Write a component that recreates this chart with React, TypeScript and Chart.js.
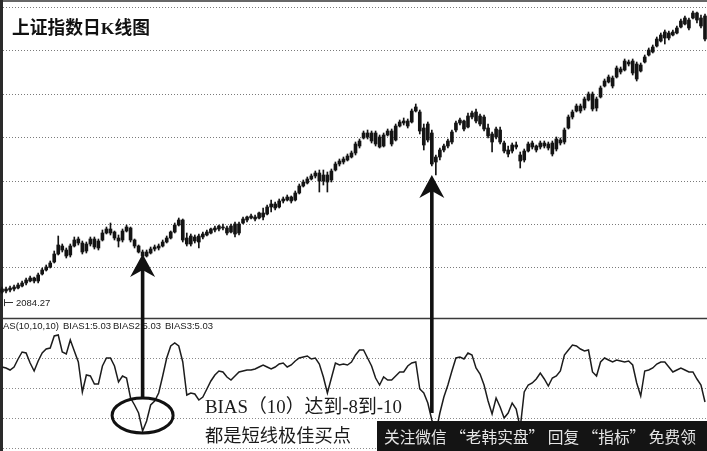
import React, { useEffect, useRef } from 'react';
import { Chart, registerables } from 'chart.js';

Chart.register(...registerables);

// ---- 上证指数日K线 (one entry per trading day) ----
const OPEN = [
  2090, 2095, 2100, 2105, 2110, 2120, 2135, 2145, 2160, 2145,
  2180, 2200, 2215, 2240, 2280, 2320, 2300, 2275, 2320, 2355,
  2335, 2295, 2330, 2355, 2310, 2350, 2385, 2405, 2390, 2360,
  2350, 2395, 2410, 2350, 2320, 2290, 2270, 2285, 2305, 2310,
  2320, 2340, 2360, 2390, 2425, 2450, 2360, 2330, 2365, 2340,
  2365, 2375, 2385, 2400, 2405, 2415, 2410, 2390, 2430, 2385,
  2435, 2450, 2460, 2465, 2460, 2485, 2480, 2515, 2530, 2515,
  2545, 2550, 2565, 2550, 2585, 2620, 2635, 2655, 2670, 2685,
  2645, 2675, 2650, 2700, 2730, 2740, 2750, 2765, 2785, 2845,
  2860, 2885, 2885, 2830, 2865, 2820, 2875, 2895, 2850, 2920,
  2935, 2945, 2940, 2995, 2990, 2910, 2850, 2885, 2740, 2765,
  2800, 2820, 2840, 2900, 2935, 2945, 2915, 2965, 2990, 2970,
  2965, 2910, 2880, 2865, 2900, 2835, 2800, 2795, 2825, 2775,
  2750, 2795, 2835, 2820, 2815, 2835, 2830, 2835, 2805, 2850,
  2840, 2910, 2965, 2995, 3020, 3010, 3050, 3080, 3010, 3065,
  3120, 3140, 3160, 3165, 3205, 3200, 3240, 3245, 3230, 3195,
  3240, 3275, 3290, 3320, 3345, 3360, 3385, 3375, 3385, 3415,
  3430, 3450, 3460, 3485, 3460, 3470,
];
const CLOSE = [
  2105, 2105, 2110, 2115, 2125, 2135, 2150, 2160, 2145, 2175,
  2200, 2215, 2235, 2280, 2325, 2300, 2270, 2320, 2350, 2335,
  2290, 2330, 2355, 2315, 2345, 2385, 2405, 2385, 2360, 2345,
  2395, 2415, 2350, 2320, 2290, 2270, 2290, 2305, 2315, 2320,
  2340, 2360, 2390, 2425, 2450, 2350, 2330, 2370, 2345, 2370,
  2380, 2390, 2405, 2410, 2420, 2410, 2385, 2420, 2380, 2430,
  2455, 2465, 2470, 2455, 2485, 2465, 2515, 2530, 2510, 2545,
  2555, 2565, 2545, 2585, 2620, 2640, 2655, 2670, 2685, 2645,
  2675, 2640, 2695, 2730, 2745, 2755, 2770, 2785, 2830, 2820,
  2885, 2865, 2845, 2885, 2815, 2875, 2895, 2830, 2920, 2940,
  2945, 2920, 2995, 3015, 2895, 2825, 2930, 2730, 2765, 2800,
  2820, 2845, 2890, 2935, 2950, 2905, 2970, 2985, 2945, 2930,
  2905, 2870, 2840, 2905, 2840, 2795, 2780, 2825, 2815, 2745,
  2795, 2830, 2815, 2800, 2835, 2820, 2810, 2780, 2855, 2835,
  2900, 2965, 2990, 3020, 2995, 3055, 3080, 3005, 3055, 3110,
  3145, 3165, 3120, 3210, 3190, 3245, 3230, 3185, 3155, 3225,
  3265, 3300, 3315, 3355, 3375, 3390, 3360, 3390, 3410, 3445,
  3460, 3410, 3485, 3450, 3420, 3355,
];
const HIGH = [
  2115, 2115, 2120, 2125, 2135, 2145, 2160, 2170, 2165, 2185,
  2210, 2225, 2245, 2295, 2370, 2330, 2310, 2330, 2365, 2365,
  2345, 2340, 2365, 2365, 2355, 2400, 2415, 2435, 2395, 2375,
  2405, 2425, 2415, 2355, 2325, 2300, 2300, 2315, 2325, 2330,
  2350, 2370, 2395, 2435, 2460, 2455, 2385, 2380, 2375, 2380,
  2390, 2400, 2410, 2420, 2425, 2430, 2420, 2430, 2440, 2440,
  2465, 2470, 2480, 2475, 2490, 2510, 2525, 2550, 2540, 2555,
  2565, 2575, 2570, 2595, 2630, 2650, 2665, 2680, 2695, 2700,
  2700, 2690, 2705, 2740, 2755, 2765, 2780, 2795, 2840, 2855,
  2895, 2900, 2895, 2895, 2875, 2885, 2905, 2905, 2930, 2950,
  2960, 2955, 3005, 3030, 3000, 2930, 2940, 2900, 2775, 2810,
  2830, 2855, 2900, 2945, 2960, 2950, 2985, 2995, 3005, 2980,
  2975, 2930, 2890, 2915, 2915, 2845, 2820, 2835, 2840, 2790,
  2805, 2840, 2845, 2825, 2845, 2845, 2840, 2845, 2865, 2860,
  2910, 2975, 3000, 3030, 3030, 3065, 3090, 3090, 3065, 3120,
  3155, 3175, 3170, 3220, 3215, 3255, 3250, 3255, 3240, 3235,
  3275, 3310, 3325, 3365, 3385, 3400, 3395, 3400, 3420, 3455,
  3470, 3460, 3495, 3490, 3475, 3480,
];
const LOW = [
  2084.27, 2085, 2090, 2095, 2105, 2115, 2125, 2140, 2135, 2135,
  2175, 2195, 2210, 2235, 2275, 2290, 2260, 2265, 2315, 2325,
  2280, 2285, 2320, 2305, 2300, 2345, 2380, 2375, 2350, 2315,
  2340, 2390, 2340, 2310, 2285, 2260, 2265, 2280, 2295, 2300,
  2315, 2335, 2355, 2385, 2420, 2340, 2320, 2320, 2335, 2310,
  2355, 2370, 2380, 2390, 2395, 2400, 2375, 2385, 2365, 2375,
  2430, 2440, 2455, 2445, 2455, 2450, 2475, 2490, 2500, 2510,
  2535, 2545, 2535, 2545, 2580, 2615, 2630, 2650, 2660, 2590,
  2625, 2590, 2640, 2695, 2720, 2730, 2745, 2760, 2775, 2810,
  2855, 2855, 2835, 2820, 2810, 2815, 2870, 2820, 2845, 2915,
  2925, 2910, 2935, 2990, 2880, 2800, 2840, 2720, 2675, 2750,
  2790, 2810, 2830, 2890, 2925, 2895, 2910, 2955, 2935, 2920,
  2895, 2860, 2790, 2855, 2830, 2785, 2765, 2785, 2805, 2710,
  2740, 2790, 2805, 2790, 2805, 2810, 2800, 2770, 2795, 2825,
  2830, 2905, 2955, 2990, 2985, 3000, 3045, 2995, 2995, 3060,
  3115, 3135, 3110, 3160, 3180, 3195, 3220, 3175, 3145, 3190,
  3235, 3270, 3285, 3315, 3340, 3330, 3350, 3370, 3380, 3410,
  3425, 3400, 3455, 3435, 3410, 3345,
];

// ---- BIAS(10) ----
const BIAS = [
  4.2, 4.0, 3.6, 4.2, 5.8, 7.2, 7.0, 5.0, 3.4, 5.4,
  7.0, 7.8, 8.0, 10.4, 10.6, 7.2, 6.8, 9.6, 7.4, 5.2,
  -0.8, 2.6, 2.4, 0.8, 0.8, 4.4, 6.0, 6.0, 4.4, 1.2,
  2.4, 2.0, -2.0, -3.4, -5.0, -8.6, -6.6, -3.4, -2.6, -1.0,
  2.4, 6.0, 8.4, 9.0, 8.4, 5.2, -1.4, -1.0, -1.2, -2.4,
  -1.8, -0.2, 1.4, 2.6, 3.4, 3.2, 2.2, 1.6, 2.4, 3.2,
  3.4, 3.6, 3.6, 3.8, 4.2, 4.6, 4.2, 3.8, 4.2, 4.8,
  5.0, 4.2, 4.6, 5.4, 6.0, 6.2, 6.4, 5.8, 6.0, 4.8,
  2.2, -1.0, 2.0, 5.0, 4.6, 4.8, 4.6, 5.2, 6.6, 7.6,
  7.6, 6.0, 4.4, 2.0, 0.6, 2.2, 1.6, 1.6, 2.4, 3.2,
  3.2, 4.4, 5.0, 5.2, -0.2, -1.0, -3.0, -6.4, -9.0, -5.0,
  -1.8, 0.6, 3.4, 6.0, 6.2, 5.8, 7.0, 6.6, 4.0, 2.8,
  0.6, -2.6, -5.2, -2.0, -3.8, -6.0, -5.0, -3.0, -4.2, -8.0,
  -0.8, 0.6, 1.0, 1.8, 3.0, 1.8, 0.4, 2.0, 2.4, 3.4,
  6.6, 7.6, 8.6, 8.4, 7.8, 7.4, 7.6, 3.2, 2.4, 5.2,
  6.0, 5.6, 5.2, 5.6, 5.4, 5.2, 5.4, 4.6, 1.0, -1.6,
  3.4, 3.6, 4.0, 4.8, 5.2, 5.2, 4.2, 3.2, 3.6, 4.0,
  3.6, 3.2, 3.2, 1.8, 0.6, -2.8,
];

const LABELS = OPEN.map((_, i) => String(i + 1));

// grid levels
const PRICE_GRID = [3515, 3298, 3081, 2864, 2647, 2430, 2213];
const BIAS_GRID = [6, 0, -6, -12];
const PANEL_SPLIT_BIAS = 14;

// axis ranges
const PRICE_MIN = 1295;
const PRICE_MAX = 3550;
const BIAS_MIN = -12.6;
const BIAS_MAX = 77.6;

// texts
const TITLE = '上证指数日K线图';
const BIAS_HEADER = ['AS(10,10,10)', 'BIAS1:5.03', 'BIAS2:5.03', 'BIAS3:5.03'];
const BIAS_HEADER_X = [3, 63, 113, 165];
const NOTE_LINES = ['BIAS（10）达到-8到-10', '都是短线极佳买点'];
const WATERMARK = '关注微信 “老韩实盘” 回复 “指标” 免费领';

// annotations: buy points
const ARROW_INDEX = [35, 107];
const ARROW_TIP_PRICE = [2280, 2675];
const ARROW_END_BIAS = [-2.0, -5.0];
const CIRCLE_INDEX = 35;
const CIRCLE_BIAS = -5.5;

const SERIF_CJK = "'Liberation Serif', 'DejaVu Serif', 'Noto Sans CJK SC', serif";
const SANS = "'Liberation Sans', Arial, sans-serif";
const CJK = "'Noto Sans CJK SC', sans-serif";

function fitFont(ctx: CanvasRenderingContext2D, text: string, weight: string, family: string, target: number) {
  ctx.font = `${weight} 20px ${family}`;
  const w = ctx.measureText(text).width;
  const size = (20 * target) / w;
  return `${weight} ${size.toFixed(2)}px ${family}`;
}

function hLine(ctx: CanvasRenderingContext2D, x0: number, x1: number, y: number) {
  ctx.beginPath();
  ctx.moveTo(x0, y);
  ctx.lineTo(x1, y);
  ctx.stroke();
}

function drawArrow(ctx: CanvasRenderingContext2D, x: number, tipY: number, endY: number) {
  const headLen = 23;
  const notch = 16;
  const half = 12.5;
  ctx.fillStyle = '#111';
  ctx.fillRect(x - 1.8, tipY + notch - 1, 3.6, endY - (tipY + notch - 1));
  ctx.beginPath();
  ctx.moveTo(x, tipY);
  ctx.lineTo(x + half, tipY + headLen);
  ctx.lineTo(x, tipY + notch);
  ctx.lineTo(x - half, tipY + headLen);
  ctx.closePath();
  ctx.fill();
}

const overlayPlugin = {
  id: 'klineOverlay',
  beforeDatasetsDraw(chart: any) {
    const { ctx, chartArea: a, scales } = chart;
    const y = scales.y;
    const y2 = scales.y2;
    ctx.save();
    ctx.lineWidth = 1;
    ctx.setLineDash([1, 2]);
    ctx.strokeStyle = '#7a7a7a';
    for (const v of PRICE_GRID) {
      hLine(ctx, a.left, a.right, Math.round(y.getPixelForValue(v)) + 0.5);
    }
    ctx.strokeStyle = '#8a8a8a';
    for (const v of BIAS_GRID) {
      hLine(ctx, a.left, a.right, Math.round(y2.getPixelForValue(v)) + 0.5);
    }
    ctx.setLineDash([]);
    // panel separator
    ctx.strokeStyle = '#3a3a3a';
    ctx.lineWidth = 1.3;
    hLine(ctx, a.left, a.right, Math.round(y2.getPixelForValue(PANEL_SPLIT_BIAS)) + 0.5);
    // frame
    ctx.strokeStyle = '#666';
    ctx.lineWidth = 2;
    hLine(ctx, a.left, a.right, 1);
    ctx.strokeStyle = '#2a2a2a';
    ctx.lineWidth = 3;
    ctx.beginPath();
    ctx.moveTo(1.5, a.top);
    ctx.lineTo(1.5, a.bottom);
    ctx.stroke();
    ctx.restore();
  },
  afterDraw(chart: any) {
    const { ctx, scales } = chart;
    const x = scales.x;
    const y = scales.y;
    const y2 = scales.y2;
    ctx.save();
    ctx.textBaseline = 'alphabetic';
    ctx.textAlign = 'left';

    // title
    ctx.fillStyle = '#111';
    ctx.font = fitFont(ctx, TITLE, 'bold', SERIF_CJK, 138);
    ctx.fillText(TITLE, 12, 34);

    // lowest price label
    const lowVal = Math.min(...LOW);
    const lowY = y.getPixelForValue(lowVal) + 13;
    ctx.strokeStyle = '#333';
    ctx.lineWidth = 1;
    hLine(ctx, 4, 13, Math.round(lowY) - 3.5);
    ctx.beginPath();
    ctx.moveTo(4.5, lowY - 7);
    ctx.lineTo(4.5, lowY);
    ctx.stroke();
    ctx.fillStyle = '#222';
    ctx.font = `9.5px ${SANS}`;
    ctx.fillText(lowVal.toFixed(2), 16, lowY);

    // BIAS header
    const sepY = y2.getPixelForValue(PANEL_SPLIT_BIAS);
    ctx.font = `9.5px ${SANS}`;
    ctx.fillStyle = '#1a1a1a';
    BIAS_HEADER.forEach((t, i) => ctx.fillText(t, BIAS_HEADER_X[i], sepY + 10.5));

    // arrows
    ARROW_INDEX.forEach((idx, k) => {
      const px = x.getPixelForValue(idx);
      drawArrow(ctx, px, y.getPixelForValue(ARROW_TIP_PRICE[k]), y2.getPixelForValue(ARROW_END_BIAS[k]));
    });

    // ellipse around the BIAS low
    ctx.strokeStyle = '#111';
    ctx.lineWidth = 3;
    ctx.beginPath();
    ctx.ellipse(x.getPixelForValue(CIRCLE_INDEX), y2.getPixelForValue(CIRCLE_BIAS), 30.5, 17.5, 0, 0, Math.PI * 2);
    ctx.stroke();

    // note text
    ctx.fillStyle = '#1a1a1a';
    ctx.font = fitFont(ctx, NOTE_LINES[0], 'normal', SERIF_CJK, 197);
    ctx.fillText(NOTE_LINES[0], 205, 413);
    ctx.font = fitFont(ctx, NOTE_LINES[1], 'normal', SERIF_CJK, 146);
    ctx.fillText(NOTE_LINES[1], 205, 442);

    // watermark
    ctx.fillStyle = '#141414';
    ctx.fillRect(377, 421, 330, 30);
    ctx.fillStyle = '#e6e6e6';
    ctx.font = fitFont(ctx, WATERMARK, 'normal', CJK, 312);
    ctx.fillText(WATERMARK, 384, 443);

    ctx.restore();
  },
};

export default function App() {
  const ref = useRef<HTMLCanvasElement>(null);
  useEffect(() => {
    if (!ref.current) return;
    const chart = new Chart(ref.current, {
      type: 'bar',
      data: {
        labels: LABELS,
        datasets: [
          {
            type: 'bar',
            label: '影线',
            data: LOW.map((l, i) => [l, HIGH[i]]) as any,
            yAxisID: 'y',
            backgroundColor: '#141414',
            barThickness: 1,
            grouped: false,
            order: 2,
          } as any,
          {
            type: 'bar',
            label: 'K线',
            data: OPEN.map((o, i) => [o, CLOSE[i]]) as any,
            yAxisID: 'y',
            backgroundColor: '#141414',
            barThickness: 3,
            grouped: false,
            order: 1,
          } as any,
          {
            type: 'line',
            label: 'BIAS',
            data: BIAS,
            yAxisID: 'y2',
            borderColor: '#1c1c1c',
            borderWidth: 1.5,
            pointRadius: 0,
            tension: 0,
            fill: false,
            order: 0,
          } as any,
        ],
      },
      options: {
        responsive: false,
        animation: false,
        devicePixelRatio: 1,
        layout: { padding: 0 },
        plugins: {
          legend: { display: false },
          tooltip: { enabled: false },
          title: { display: false },
        },
        scales: {
          x: { display: false, offset: true, grid: { display: false } },
          y: { display: false, min: PRICE_MIN, max: PRICE_MAX },
          y2: { display: false, min: BIAS_MIN, max: BIAS_MAX },
        },
      } as any,
      plugins: [overlayPlugin],
    });
    return () => chart.destroy();
  }, []);

  return (
    <div style={{ position: 'fixed', left: 0, top: 0, width: 707, height: 451, background: '#fff' }}>
      <canvas ref={ref} width={707} height={451} style={{ display: 'block', width: 707, height: 451 }} />
    </div>
  );
}
